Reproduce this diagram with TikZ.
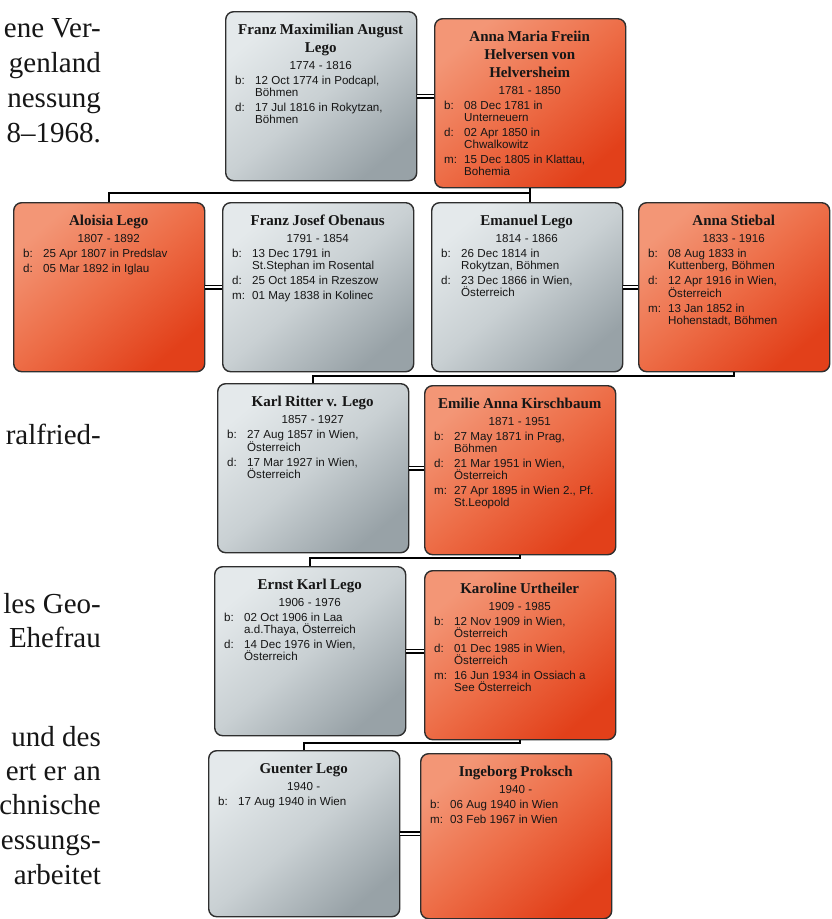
\documentclass[tikz,border=0pt]{standalone}
\usepackage{fontspec}
\setmainfont{Liberation Sans}
\newfontfamily\namefont{Liberation Serif}
\newfontfamily\bookfont{Liberation Serif}
\usetikzlibrary{calc}

\definecolor{greytop}{HTML}{E4E9EB}
\definecolor{greymid}{HTML}{C9D0D3}
\definecolor{greybot}{HTML}{98A2A7}
\definecolor{orangetop}{HTML}{F39676}
\definecolor{orangemid}{HTML}{ED6D47}
\definecolor{orangebot}{HTML}{E2401A}
\definecolor{boxline}{HTML}{2E2E2E}
\definecolor{ink}{HTML}{161616}

\setlength\parskip{0pt}
% person card text: name, life span, facts (b:, d:, m:)
\newcommand\pname[1]{{\centering\namefont\bfseries\fontsize{15}{18}\selectfont\rule{0pt}{12pt}#1\par}}
\newcommand\plife[1]{{\centering\fontsize{11.6}{17.5}\selectfont #1\par}}
\newcommand\pfact[2]{{\raggedright\fontsize{11.6}{12}\selectfont\vspace{3pt}%
  \hangindent=20pt\hangafter=1\noindent\makebox[20pt][l]{#1}#2\par}}

\tikzset{
  card/.style={rectangle, rounded corners=8pt, draw=boxline, line width=1.4pt,
    minimum width=191pt, minimum height=169pt, inner sep=0pt, anchor=north west},
  male/.style={card, top color=greytop, bottom color=greybot, middle color=greymid,
    shading angle=40},
  female/.style={card, top color=orangetop, bottom color=orangebot, middle color=orangemid,
    shading angle=40},
  cardtext/.style={anchor=north west, inner sep=0pt, text width=171pt, text=ink},
  descent/.style={draw=black, line width=2.4pt},
  marriage/.style={draw=black, line width=1.6pt, double=white, double distance=2.2pt},
  booktext/.style={anchor=base east, inner sep=0pt, text=ink,
    font=\bookfont\fontsize{29}{34}\selectfont}
}

\begin{document}
\begin{tikzpicture}[x=1pt, y=-1pt]
\useasboundingbox (0,0) rectangle (832,919);
\fill[white] (0,0) rectangle (832,919);

% running book text on the left margin
\node[booktext] (l1) at (101,37) {ene Ver-};
\node[booktext] (l2) at (101,72) {genland};
\node[booktext] (l3) at (101,107) {nessung};
\node[booktext] (l4) at (101,142) {8–1968.};
\node[booktext] (l5) at (101,444) {ralfried-};
\node[booktext] (l6) at (101,613) {les Geo-};
\node[booktext] (l7) at (101,647) {Ehefrau};
\node[booktext] (l8) at (101,746) {und des};
\node[booktext] (l9) at (101,780) {ert er an};
\node[booktext] (l10) at (101,814) {chnische};
\node[booktext] (l11) at (101,849) {essungs-};
\node[booktext] (l12) at (101,884) {arbeitet};

% generation 1
\node[male] (franz) at (225,11) {};
\node[female] (annam) at (434,18) {};
% generation 2
\node[female] (aloisia) at (13,202) {};
\node[male] (obenaus) at (222,202) {};
\node[male] (emanuel) at (431,202) {};
\node[female] (stiebal) at (638,202) {};
% generation 3
\node[male] (karl) at (217,383) {};
\node[female] (emilie) at (424,385) {};
% generation 4
\node[male] (ernst) at (214,566) {};
\node[female] (karoline) at (424,570) {};
% generation 5
\node[male, minimum height=166pt] (guenter) at (208,750) {};
\node[female, minimum height=165pt] (ingeborg) at (420,753) {};

% marriages
\draw[marriage] (franz.east) -- (franz.east -| annam.west);
\draw[marriage] (aloisia.east) -- (obenaus.west);
\draw[marriage] (emanuel.east) -- (stiebal.west);
\draw[marriage] (karl.east) -- (karl.east -| emilie.west);
\draw[marriage] (ernst.east) -- (ernst.east -| karoline.west);
\draw[marriage] (guenter.east) -- (guenter.east -| ingeborg.west);

% descent lines
\coordinate (bus1) at (0,193);
\coordinate (bus2) at (0,376);
\coordinate (bus3) at (0,558);
\coordinate (bus4) at (0,743);
\draw[descent] (annam.south) |- (aloisia.north |- bus1) -- (aloisia.north);
\draw[descent] (annam.south |- bus1) -- (annam.south |- emanuel.north);
\draw[descent] (stiebal.south) |- (karl.north |- bus2) -- (karl.north);
\draw[descent] (emilie.south) |- (ernst.north |- bus3) -- (ernst.north);
\draw[descent] (karoline.south) |- (guenter.north |- bus4) -- (guenter.north);

% card texts
\node[cardtext] (franz-t) at ($(franz.north west)+(10,11)$) {%
  \pname{Franz Maximilian August}\pname{Lego}\plife{1774 - 1816}%
  \pfact{b:}{12 Oct 1774 in Podcapl,\newline Böhmen}%
  \pfact{d:}{17 Jul 1816 in Rokytzan,\newline Böhmen}};
\node[cardtext] (annam-t) at ($(annam.north west)+(10,11)$) {%
  \pname{Anna Maria Freiin}\pname{Helversen von}\pname{Helversheim}\plife{1781 - 1850}%
  \pfact{b:}{08 Dec 1781 in\newline Unterneuern}%
  \pfact{d:}{02 Apr 1850 in\newline Chwalkowitz}%
  \pfact{m:}{15 Dec 1805 in Klattau,\newline Bohemia}};
\node[cardtext] (aloisia-t) at ($(aloisia.north west)+(10,11)$) {%
  \pname{Aloisia Lego}\plife{1807 - 1892}%
  \pfact{b:}{25 Apr 1807 in Predslav}%
  \pfact{d:}{05 Mar 1892 in Iglau}};
\node[cardtext] (obenaus-t) at ($(obenaus.north west)+(10,11)$) {%
  \pname{Franz Josef Obenaus}\plife{1791 - 1854}%
  \pfact{b:}{13 Dec 1791 in\newline St.Stephan im Rosental}%
  \pfact{d:}{25 Oct 1854 in Rzeszow}%
  \pfact{m:}{01 May 1838 in Kolinec}};
\node[cardtext] (emanuel-t) at ($(emanuel.north west)+(10,11)$) {%
  \pname{Emanuel Lego}\plife{1814 - 1866}%
  \pfact{b:}{26 Dec 1814 in\newline Rokytzan, Böhmen}%
  \pfact{d:}{23 Dec 1866 in Wien,\newline Österreich}};
\node[cardtext] (stiebal-t) at ($(stiebal.north west)+(10,11)$) {%
  \pname{Anna Stiebal}\plife{1833 - 1916}%
  \pfact{b:}{08 Aug 1833 in\newline Kuttenberg, Böhmen}%
  \pfact{d:}{12 Apr 1916 in Wien,\newline Österreich}%
  \pfact{m:}{13 Jan 1852 in\newline Hohenstadt, Böhmen}};
\node[cardtext] (karl-t) at ($(karl.north west)+(10,11)$) {%
  \pname{Karl Ritter v. Lego}\plife{1857 - 1927}%
  \pfact{b:}{27 Aug 1857 in Wien,\newline Österreich}%
  \pfact{d:}{17 Mar 1927 in Wien,\newline Österreich}};
\node[cardtext] (emilie-t) at ($(emilie.north west)+(10,11)$) {%
  \pname{Emilie Anna Kirschbaum}\plife{1871 - 1951}%
  \pfact{b:}{27 May 1871 in Prag,\newline Böhmen}%
  \pfact{d:}{21 Mar 1951 in Wien,\newline Österreich}%
  \pfact{m:}{27 Apr 1895 in Wien 2., Pf.\newline St.Leopold}};
\node[cardtext] (ernst-t) at ($(ernst.north west)+(10,11)$) {%
  \pname{Ernst Karl Lego}\plife{1906 - 1976}%
  \pfact{b:}{02 Oct 1906 in Laa\newline a.d.Thaya, Österreich}%
  \pfact{d:}{14 Dec 1976 in Wien,\newline Österreich}};
\node[cardtext] (karoline-t) at ($(karoline.north west)+(10,11)$) {%
  \pname{Karoline Urtheiler}\plife{1909 - 1985}%
  \pfact{b:}{12 Nov 1909 in Wien,\newline Österreich}%
  \pfact{d:}{01 Dec 1985 in Wien,\newline Österreich}%
  \pfact{m:}{16 Jun 1934 in Ossiach a\newline See Österreich}};
\node[cardtext] (guenter-t) at ($(guenter.north west)+(10,11)$) {%
  \pname{Guenter Lego}\plife{1940 -}%
  \pfact{b:}{17 Aug 1940 in Wien}};
\node[cardtext] (ingeborg-t) at ($(ingeborg.north west)+(10,11)$) {%
  \pname{Ingeborg Proksch}\plife{1940 -}%
  \pfact{b:}{06 Aug 1940 in Wien}%
  \pfact{m:}{03 Feb 1967 in Wien}};
\end{tikzpicture}
\end{document}
